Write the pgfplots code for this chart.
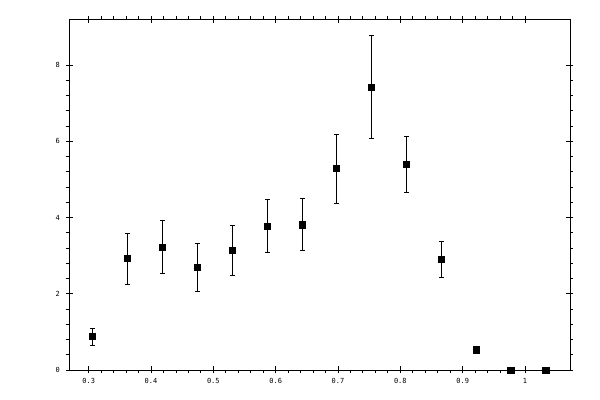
\documentclass[border=0pt]{standalone}
\usepackage{fontspec}
\setmonofont{DejaVu Sans Mono}
\usepackage{pgfplots}
\pgfplotsset{compat=1.18}

\begin{document}
\begin{tikzpicture}
% page frame, 600 x 400
\path (-69.3bp,-30bp) rectangle (530.7bp,370bp);
\begin{axis}[
    scale only axis,
    width=500.7bp,
    height=351bp,
    xmin=0.2689, xmax=1.0722,
    ymin=0, ymax=9.21,
    xtick={0.3,0.4,0.5,0.6,0.7,0.8,0.9,1},
    xticklabels={0.3,0.4,0.5,0.6,0.7,0.8,0.9,1},
    ytick={0,2,4,6,8},
    minor x tick num=4,
    minor y tick num=4,
    tick align=outside,
    major tick length=3bp,
    minor tick length=3bp,
    extra x ticks={0.3,0.4,0.5,0.6,0.7,0.8,0.9,1},
    extra x tick labels={},
    extra y ticks={0,2,4,6,8},
    extra y tick labels={},
    extra tick style={tick align=inside, major tick length=4bp},
    axis line style={line width=0.9pt},
    tick style={line width=0.9pt, black},
    ticklabel style={font=\fontsize{7}{8}\selectfont\ttfamily},
    /pgf/number format/assume math mode=true,
    xticklabel style={yshift=-2bp},
    yticklabel style={xshift=-3bp},
]
\addplot[
    only marks,
    mark=square*,
    mark size=3.3bp,
    mark options={black},
    error bars/.cd,
    y dir=both, y explicit,
    error mark=-,
    error mark options={line width=0.9pt, mark size=2.4bp, rotate=90},
    error bar style={line width=0.9pt, black},
] table[x=x, y=y, y error plus=ep, y error minus=em] {
x       y     ep    em
0.3058  0.885 0.21  0.23
0.3619  2.93  0.66  0.68
0.4181  3.22  0.71  0.68
0.4742  2.70  0.63  0.63
0.5304  3.14  0.66  0.65
0.5865  3.77  0.70  0.68
0.6427  3.82  0.68  0.67
0.6972  5.29  0.89  0.91
0.7534  7.42  1.35  1.34
0.8095  5.40  0.74  0.74
0.8657  2.91  0.47  0.48
0.9218  0.54  0.08  0.08
0.9770  0.00  0.00  0.00
1.0335  0.00  0.00  0.00
};
\end{axis}
\end{tikzpicture}
\end{document}
